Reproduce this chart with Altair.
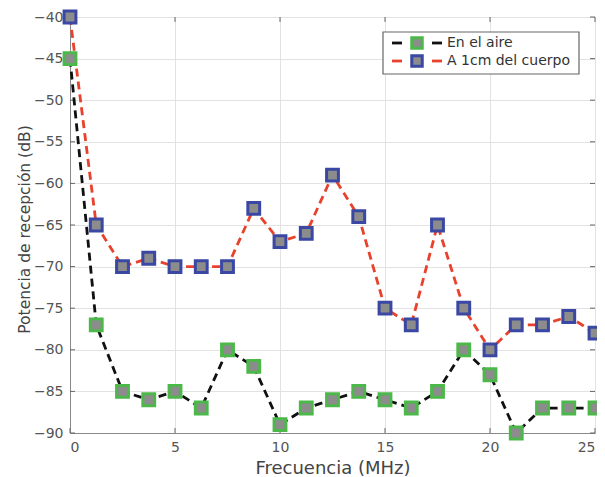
import altair as alt
import pandas as pd

freq = [0, 1.25, 2.5, 3.75, 5, 6.25, 7.5, 8.75, 10, 11.25, 12.5, 13.75, 15,
        16.25, 17.5, 18.75, 20, 21.25, 22.5, 23.75, 25]
air = [-45, -77, -85, -86, -85, -87, -80, -82, -89, -87, -86, -85, -86,
       -87, -85, -80, -83, -90, -87, -87, -87]
body = [-40, -65, -70, -69, -70, -70, -70, -63, -67, -66, -59, -64, -75,
        -77, -65, -75, -80, -77, -77, -76, -78]
series_names = ["En el aire", "A 1cm del cuerpo"]
line_colors = ["#111111", "#e8412c"]
marker_colors = ["#4cb84a", "#3a47a3"]
x_ticks = [0, 5, 10, 15, 20, 25]
y_ticks = [-90, -85, -80, -75, -70, -65, -60, -55, -50, -45, -40]

rows = []
for f, a, b in zip(freq, air, body):
    rows.append({"f": f, "v": a, "s": series_names[0]})
    rows.append({"f": f, "v": b, "s": series_names[1]})
df = pd.DataFrame(rows)

W, H = 525, 416
FONT = "DejaVu Sans"
xs = alt.Scale(domain=[0, 25], nice=False)
ys = alt.Scale(domain=[-90, -40], nice=False)

x = alt.X("f:Q", scale=xs, title="Frecuencia (MHz)",
          axis=alt.Axis(values=x_ticks, grid=True, ticks=False,
                        labelFont=FONT, labelFontSize=14, labelColor="#555",
                        titleFont=FONT, titleFontSize=18, titleColor="#444",
                        titleFontWeight="normal", labelPadding=7, titlePadding=5,
                        gridColor="#e2e2e2", domainColor="#888"))
y = alt.Y("v:Q", scale=ys, title="Potencia de recepción (dB)",
          axis=alt.Axis(values=y_ticks, grid=True, ticks=False,
                        labelFont=FONT, labelFontSize=14, labelColor="#555",
                        titleFont=FONT, titleFontSize=15.5, titleColor="#444",
                        titleFontWeight="normal", labelPadding=7,
                        titleX=-46, titleY=212, titleAngle=270,
                        titleAlign="center", titleBaseline="middle",
                        gridColor="#e2e2e2", domainColor="#888"))

lines = alt.Chart(df).mark_line(strokeWidth=2.8, strokeDash=[8, 5], clip=False).encode(
    x=x, y=y,
    color=alt.Color("s:N", scale=alt.Scale(domain=series_names, range=line_colors), legend=None),
    detail="s:N",
)
points = alt.Chart(df).mark_point(shape="square", filled=True, fill="#8c8c8c", size=140,
                                  strokeWidth=3, opacity=1, clip=False).encode(
    x=x, y=y,
    stroke=alt.Stroke("s:N", scale=alt.Scale(domain=series_names, range=marker_colors), legend=None),
)

# inward ticks on all four sides
xt = pd.DataFrame({"f": x_ticks})
yt = pd.DataFrame({"v": y_ticks})
tick_style = dict(color="#666", strokeWidth=1)
tick_layers = [
    alt.Chart(xt).mark_rule(**tick_style).encode(x=alt.X("f:Q", scale=xs), y=alt.value(H), y2=alt.value(H - 5)),
    alt.Chart(xt).mark_rule(**tick_style).encode(x=alt.X("f:Q", scale=xs), y=alt.value(0), y2=alt.value(5)),
    alt.Chart(yt).mark_rule(**tick_style).encode(y=alt.Y("v:Q", scale=ys), x=alt.value(0), x2=alt.value(5)),
    alt.Chart(yt).mark_rule(**tick_style).encode(y=alt.Y("v:Q", scale=ys), x=alt.value(W), x2=alt.value(W - 5)),
]

# legend box
leg_df = pd.DataFrame({"d": [0]})
box = alt.Chart(leg_df).mark_rect(fill="white", stroke="#666", strokeWidth=1.2).encode(
    x=alt.value(313), x2=alt.value(509), y=alt.value(15), y2=alt.value(57))
leg_layers = [box]
for name, lc, mc, yy in zip(series_names, line_colors, marker_colors, [26, 44]):
    leg_layers.append(alt.Chart(leg_df).mark_rule(color=lc, strokeWidth=2.8).encode(
        x=alt.value(322), x2=alt.value(332), y=alt.value(yy)))
    leg_layers.append(alt.Chart(leg_df).mark_rule(color=lc, strokeWidth=2.8).encode(
        x=alt.value(362), x2=alt.value(372), y=alt.value(yy)))
    leg_layers.append(alt.Chart(leg_df).mark_point(shape="square", filled=True, fill="#8c8c8c",
                                                   stroke=mc, size=110, strokeWidth=3, opacity=1).encode(
        x=alt.value(347), y=alt.value(yy)))
    leg_layers.append(alt.Chart(leg_df).mark_text(text=name, align="left", baseline="middle",
                                                  font=FONT, fontSize=14, color="#333").encode(
        x=alt.value(377), y=alt.value(yy)))

chart = alt.layer(*tick_layers, lines, points, *leg_layers).properties(
    width=W, height=H,
    autosize=alt.AutoSizeParams(type="none"),
    padding={"left": 62, "top": 9, "right": 2, "bottom": 44},
).configure_view(stroke="#888", strokeWidth=1).configure(background="white")

chart.save("out.html", embed_options={"renderer": "svg", "actions": False})
